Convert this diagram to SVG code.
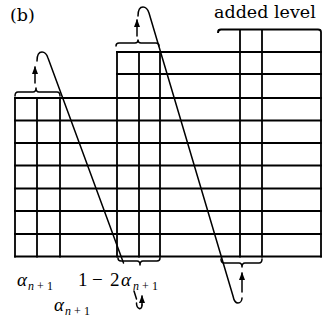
<svg xmlns="http://www.w3.org/2000/svg" width="323" height="321" viewBox="0 0 323 321">
<style>
.g{stroke:#000;stroke-width:1.8;fill:none;stroke-linecap:square}
.c{stroke:#000;stroke-width:1.5;fill:none;stroke-linecap:round;stroke-linejoin:round}
.t{font-family:"DejaVu Serif","Liberation Serif",serif;font-size:17.5px;fill:#000}
.m{font-family:"Liberation Serif","DejaVu Serif",serif;fill:#000}
.a{font-style:italic;font-size:19px}
.s{font-size:12px}
.i{font-style:italic}
</style>
<defs>
<marker id="ah" viewBox="0 0 8 6" refX="7" refY="3" markerWidth="8" markerHeight="6" markerUnits="userSpaceOnUse" orient="auto">
<path d="M0,0 L8,3 L0,6 Z" fill="#000"/>
</marker>
</defs>
<rect width="323" height="321" fill="#fff"/>
<text class="t" x="10" y="21">(b)</text>
<text class="t" x="214" y="18">added level</text>

<g id="grid-left">
<path class="g" d="M15,98 V256.5 M37,98 V256.5 M60,98 V256.5"/>
</g>
<g id="grid-middle">
<path class="g" d="M117,52 V256.5 M139,52 V256.5 M160,52 V256.5"/>
</g>
<g id="grid-right">
<path class="g" d="M218,32 Q218,29.5 221,29.5 H318 Q321,29.5 321,32 V256.5 M240,29.5 V256.5 M262,29.5 V256.5"/>
</g>
<g id="rows">
<path class="g" d="M117,52 H321 M117,74 H321 M15,98 H321 M15,120.5 H321 M15,143 H321 M15,165.5 H321 M15,188.5 H321 M15,211 H321 M15,234 H321 M15,256.5 H321"/>
</g>

<g id="connectors">
<path class="c" d="M37,61 C37,55 39,52 42,52 C45,52 47,55 48,58 L123.5,263"/>
<path class="c" d="M134,291 L136.5,299"/>
<path class="c" d="M136.5,303 C136.5,309 142,311 142,305"/>
<line class="c" x1="142" y1="305" x2="142" y2="296" marker-end="url(#ah)"/>
<path class="c" d="M138,16 C138,10 140,7 143,7 C146,7 148,10 149,13 L233,296 C234,301 236,303 238,303 C240,303 242,301 242,298"/>
<line class="c" x1="35" y1="83" x2="35" y2="67" marker-end="url(#ah)"/>
<line class="c" x1="137" y1="36" x2="137" y2="20" marker-end="url(#ah)"/>
<line class="c" x1="242" y1="292" x2="242" y2="273" marker-end="url(#ah)"/>
<path class="c" d="M15,96 Q15,92 18,92 H33 Q36,92 36,88 Q36,92 39,92 H57 Q60,92 60,96"/>
<path class="c" d="M116,46 Q116,43 119,43 H135 Q138,43 138,40 Q138,43 141,43 H156 Q159,43 159,46"/>
<path class="c" d="M118,258 Q118,261 121,261 H137 Q140,261 140,265 Q140,261 143,261 H157 Q160,261 160,258"/>
<path class="c" d="M221,259 Q221,263 224,263 H239 Q242,263 242,267 Q242,263 245,263 H259 Q262,263 262,259"/>
</g>

<g id="labels">
<text class="m" y="286"><tspan class="a" x="17">α</tspan><tspan class="s i" x="28" y="290">n</tspan><tspan class="s" x="37" y="290">+</tspan><tspan class="s" x="47" y="290">1</tspan></text>
<text class="m" y="286" font-size="19"><tspan x="78">1</tspan><tspan x="92">−</tspan><tspan x="110">2</tspan><tspan class="a" x="121">α</tspan><tspan class="s i" x="133" y="290">n</tspan><tspan class="s" x="142" y="290">+</tspan><tspan class="s" x="152" y="290">1</tspan></text>
<text class="m" y="311"><tspan class="a" x="54">α</tspan><tspan class="s i" x="65" y="315">n</tspan><tspan class="s" x="74" y="315">+</tspan><tspan class="s" x="84" y="315">1</tspan></text>
</g>
</svg>
